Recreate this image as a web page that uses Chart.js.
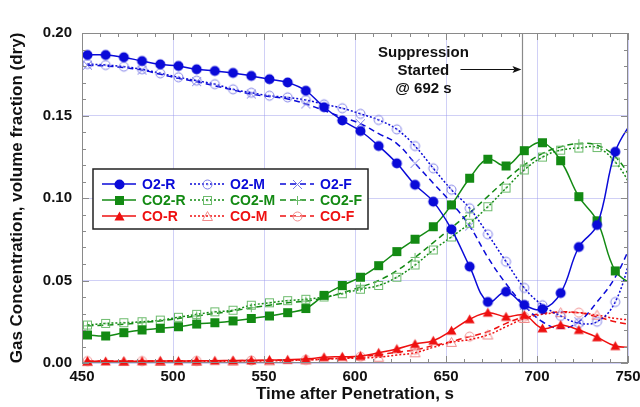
<!DOCTYPE html>
<html>
<head>
<meta charset="utf-8">
<title>Gas Concentration after Penetration</title>
<script src="https://cdn.jsdelivr.net/npm/chart.js@4.4.1/dist/chart.umd.min.js"></script>
<style>
  html, body { margin: 0; padding: 0; background: #fff; }
  #chart { display: block; }
</style>
</head>
<body>
<canvas id="chart" width="640" height="407"></canvas>
<script>
// sample times, s after penetration (last one sits just past the axis end)
const times = [453, 463, 473, 483, 493, 503, 513, 523, 533, 543,
               553, 563, 573, 583, 593, 603, 613, 623, 633, 643,
               653, 663, 673, 683, 693, 703, 713, 723, 733, 743, 753];

// volume fractions (dry)
const o2R  = [0.1867, 0.1867, 0.1853, 0.1830, 0.1810, 0.1800, 0.1780, 0.1770, 0.1758, 0.1740,
              0.1720, 0.1700, 0.1650, 0.1550, 0.1470, 0.1406, 0.1315, 0.1210, 0.1080, 0.0978,
              0.0810, 0.0584, 0.0370, 0.0432, 0.0352, 0.0327, 0.0424, 0.0703, 0.0836, 0.1280, 0.1480];
const o2M  = [0.1812, 0.1806, 0.1796, 0.1780, 0.1756, 0.1732, 0.1711, 0.1690, 0.1659, 0.1638,
              0.1620, 0.1610, 0.1594, 0.1568, 0.1544, 0.1510, 0.1473, 0.1416, 0.1315, 0.1180,
              0.1050, 0.0938, 0.0780, 0.0614, 0.0455, 0.0350, 0.0285, 0.0242, 0.0250, 0.0370, 0.0700];
const o2F  = [0.1805, 0.1800, 0.1790, 0.1775, 0.1750, 0.1725, 0.1705, 0.1680, 0.1655, 0.1630,
              0.1615, 0.1600, 0.1570, 0.1530, 0.1490, 0.1450, 0.1390, 0.1330, 0.1210, 0.1090,
              0.0970, 0.0830, 0.0640, 0.0480, 0.0350, 0.0250, 0.0210, 0.0250, 0.0370, 0.0520, 0.0750];
const co2R = [0.0170, 0.0164, 0.0184, 0.0200, 0.0210, 0.0220, 0.0236, 0.0244, 0.0255, 0.0270,
              0.0285, 0.0305, 0.0330, 0.0410, 0.0470, 0.0520, 0.0590, 0.0675, 0.0750, 0.0826,
              0.0958, 0.1120, 0.1235, 0.1194, 0.1287, 0.1335, 0.1226, 0.1008, 0.0862, 0.0558, 0.0470];
const co2M = [0.0230, 0.0240, 0.0244, 0.0250, 0.0260, 0.0277, 0.0295, 0.0310, 0.0320, 0.0350,
              0.0365, 0.0378, 0.0386, 0.0400, 0.0420, 0.0447, 0.0470, 0.0520, 0.0594, 0.0685,
              0.0764, 0.0847, 0.0947, 0.1060, 0.1170, 0.1248, 0.1290, 0.1303, 0.1306, 0.1218, 0.1050];
const co2F = [0.0225, 0.0230, 0.0235, 0.0245, 0.0255, 0.0270, 0.0285, 0.0300, 0.0315, 0.0335,
              0.0350, 0.0365, 0.0375, 0.0395, 0.0425, 0.0460, 0.0500, 0.0560, 0.0640, 0.0730,
              0.0820, 0.0910, 0.1010, 0.1110, 0.1200, 0.1270, 0.1310, 0.1330, 0.1320, 0.1250, 0.1100];
const coR  = [0.0010, 0.0010, 0.0010, 0.0011, 0.0012, 0.0012, 0.0013, 0.0014, 0.0015, 0.0016,
              0.0018, 0.0020, 0.0024, 0.0035, 0.0038, 0.0042, 0.0062, 0.0085, 0.0115, 0.0135,
              0.0196, 0.0265, 0.0305, 0.0280, 0.0290, 0.0210, 0.0230, 0.0200, 0.0156, 0.0103, 0.0095];
const coM  = [0.0008, 0.0009, 0.0009, 0.0009, 0.0010, 0.0010, 0.0010, 0.0011, 0.0011, 0.0012,
              0.0013, 0.0015, 0.0018, 0.0022, 0.0028, 0.0030, 0.0035, 0.0048, 0.0062, 0.0095,
              0.0125, 0.0142, 0.0170, 0.0220, 0.0270, 0.0295, 0.0305, 0.0305, 0.0290, 0.0270, 0.0260];
const coF  = [0.0012, 0.0012, 0.0012, 0.0012, 0.0013, 0.0013, 0.0013, 0.0014, 0.0014, 0.0015,
              0.0016, 0.0017, 0.0019, 0.0024, 0.0030, 0.0038, 0.0050, 0.0065, 0.0080, 0.0105,
              0.0130, 0.0160, 0.0190, 0.0240, 0.0280, 0.0300, 0.0310, 0.0305, 0.0280, 0.0250, 0.0230];

const suppressionTime = 692;
const annotationLines = ['Suppression', 'Started', '@ 692 s'];

const BLUE = '#0a0ad8', GREEN = '#138a13', RED = '#ee1010';
const LBLUE = '#7c7ce6', LGREEN = '#6cbb6c', LRED = '#f08a8a';
const FONT = "'Liberation Sans', Arial, sans-serif";

// little canvases used as point styles (and reused in the legend)
function marker(kind, color) {
  const s = 13, m = s / 2;
  const c = document.createElement('canvas');
  c.width = s; c.height = s;
  const g = c.getContext('2d');
  g.strokeStyle = color; g.fillStyle = color; g.lineWidth = 1;
  g.beginPath();
  if (kind === 'disc') { g.arc(m, m, 5, 0, Math.PI * 2); g.fill(); }
  else if (kind === 'square') { g.fillRect(m - 4.5, m - 4.5, 9, 9); }
  else if (kind === 'tri') { g.moveTo(m, m - 5); g.lineTo(m + 5, m + 4); g.lineTo(m - 5, m + 4); g.closePath(); g.fill(); }
  else if (kind === 'ringdot') { g.arc(m, m, 4.5, 0, Math.PI * 2); g.stroke(); g.fillRect(m - 0.8, m - 0.8, 1.6, 1.6); }
  else if (kind === 'boxdot') { g.strokeRect(m - 4, m - 4, 8, 8); g.fillRect(m - 0.8, m - 0.8, 1.6, 1.6); }
  else if (kind === 'opentri') { g.moveTo(m, m - 5); g.lineTo(m + 5, m + 4); g.lineTo(m - 5, m + 4); g.closePath(); g.stroke(); }
  else if (kind === 'x') { g.moveTo(m - 4.5, m - 4.5); g.lineTo(m + 4.5, m + 4.5); g.moveTo(m + 4.5, m - 4.5); g.lineTo(m - 4.5, m + 4.5); g.stroke(); }
  else if (kind === 'plus') { g.moveTo(m, m - 4.5); g.lineTo(m, m + 4.5); g.moveTo(m - 4.5, m); g.lineTo(m + 4.5, m); g.stroke(); }
  else if (kind === 'ringbar') { g.arc(m, m, 4.5, 0, Math.PI * 2); g.moveTo(m - 4.5, m); g.lineTo(m + 4.5, m); g.stroke(); }
  return c;
}

function series(label, values, color, textColor, dash, mark, every) {
  return {
    label: label,
    data: times.map((t, i) => ({ x: t, y: values[i] })),
    borderColor: color,
    backgroundColor: color,
    borderWidth: 1.5,
    borderDash: dash,
    pointStyle: mark,
    pointRadius: ctx => (ctx.dataIndex % every === 0 ? 5 : 0),
    pointHoverRadius: 0,
    tension: 0.4,
    clip: { left: 6, top: 6, right: 0, bottom: 8 },
    textColor: textColor
  };
}

const DOT = [2, 2], DASH = [6, 4];
const datasets = [
  series('O2-R',  o2R,  BLUE,  BLUE,  [],   marker('disc', BLUE), 1),
  series('CO2-R', co2R, GREEN, GREEN, [],   marker('square', GREEN), 1),
  series('CO-R',  coR,  RED,   RED,   [],   marker('tri', RED), 1),
  series('O2-M',  o2M,  BLUE,  BLUE,  DOT,  marker('ringdot', LBLUE), 1),
  series('CO2-M', co2M, GREEN, GREEN, DOT,  marker('boxdot', LGREEN), 1),
  series('CO-M',  coM,  RED,   RED,   DOT,  marker('opentri', LRED), 2),
  series('O2-F',  o2F,  BLUE,  BLUE,  DASH, marker('x', LBLUE), 3),
  series('CO2-F', co2F, GREEN, GREEN, DASH, marker('plus', LGREEN), 3),
  series('CO-F',  coF,  RED,   RED,   DASH, marker('ringbar', LRED), 3)
];

// inside ticks, frame, suppression marker and the boxed legend
const decorations = {
  id: 'decorations',
  beforeDatasetsDraw(chart) {
    const { ctx, chartArea: a, scales: { x } } = chart;
    const px = Math.round(x.getPixelForValue(suppressionTime)) + 0.5;
    ctx.save();
    ctx.strokeStyle = '#8a8a8a';
    ctx.lineWidth = 1.2;
    ctx.beginPath(); ctx.moveTo(px, a.top); ctx.lineTo(px, a.bottom); ctx.stroke();
    ctx.restore();
  },
  afterDatasetsDraw(chart) {
    const { ctx, chartArea: a, scales: { x, y } } = chart;
    ctx.save();
    ctx.strokeStyle = '#8a8a8a';
    ctx.lineWidth = 1;
    ctx.strokeRect(a.left + 0.5, a.top + 0.5, a.right - a.left - 1, a.bottom - a.top - 1);
    ctx.beginPath();
    for (let t = x.min; t <= x.max; t += 10) {
      const p = Math.round(x.getPixelForValue(t)) + 0.5;
      const len = (t - x.min) % 50 === 0 ? 7 : 4;
      ctx.moveTo(p, a.bottom); ctx.lineTo(p, a.bottom - len);
      ctx.moveTo(p, a.top); ctx.lineTo(p, a.top + len);
    }
    for (let k = 0; k <= 20; k++) {
      const p = Math.round(y.getPixelForValue(k / 100)) + 0.5;
      const len = k % 5 === 0 ? 7 : 4;
      ctx.moveTo(a.left, p); ctx.lineTo(a.left + len, p);
      ctx.moveTo(a.right, p); ctx.lineTo(a.right - len, p);
    }
    ctx.stroke();

    // annotation text + arrow
    const lx = x.getPixelForValue(suppressionTime);
    ctx.fillStyle = '#111';
    ctx.font = 'bold 15px ' + FONT;
    ctx.textAlign = 'center';
    ctx.textBaseline = 'middle';
    annotationLines.forEach((s, i) => ctx.fillText(s, lx - 99, a.top + 20 + i * 18));
    const ay = a.top + 36.5;
    ctx.strokeStyle = '#111';
    ctx.beginPath(); ctx.moveTo(lx - 62, ay); ctx.lineTo(lx - 8, ay); ctx.stroke();
    ctx.beginPath(); ctx.moveTo(lx - 1, ay); ctx.lineTo(lx - 10, ay - 3.5); ctx.lineTo(lx - 8, ay); ctx.lineTo(lx - 10, ay + 3.5); ctx.closePath(); ctx.fill();

    // legend box
    const bx = a.left + 11, by = a.top + 136, bw = 275, bh = 60;
    ctx.fillStyle = '#fff';
    ctx.fillRect(bx, by, bw, bh);
    ctx.strokeStyle = '#222';
    ctx.lineWidth = 1.5;
    ctx.strokeRect(bx, by, bw, bh);
    ctx.font = 'bold 14px ' + FONT;
    ctx.textAlign = 'left';
    const cols = [9, 97, 187];
    chart.data.datasets.forEach((ds, i) => {
      const col = Math.floor(i / 3), row = i % 3;
      const x0 = bx + cols[col], yy = by + 15 + row * 16;
      ctx.strokeStyle = ds.borderColor;
      ctx.lineWidth = 1.5;
      ctx.setLineDash(ds.borderDash);
      ctx.beginPath(); ctx.moveTo(x0, yy); ctx.lineTo(x0 + 34, yy); ctx.stroke();
      ctx.setLineDash([]);
      const mk = ds.pointStyle;
      ctx.fillStyle = '#fff';
      ctx.drawImage(mk, Math.round(x0 + 17 - mk.width / 2), Math.round(yy - mk.height / 2));
      ctx.fillStyle = ds.textColor;
      ctx.fillText(ds.label, x0 + 40, yy + 1);
    });
    ctx.restore();
  }
};

new Chart(document.getElementById('chart'), {
  type: 'line',
  data: { datasets: datasets },
  options: {
    responsive: false,
    animation: false,
    events: [],
    layout: { padding: { top: 33, right: 12, left: 0, bottom: 0 } },
    plugins: { legend: { display: false }, tooltip: { enabled: false } },
    scales: {
      x: {
        type: 'linear',
        min: 450,
        max: 750,
        afterFit: s => { s.height = 44; s.paddingLeft = 0; s.paddingRight = 0; },
        grid: { color: 'rgba(150,150,235,0.45)', drawTicks: false },
        border: { display: false },
        ticks: {
          stepSize: 50,
          autoSkip: false,
          maxRotation: 0,
          padding: 5,
          color: '#111',
          font: { family: FONT, size: 15, weight: 'bold' }
        },
        title: {
          display: true,
          text: 'Time after Penetration, s',
          color: '#111',
          padding: { top: 0, bottom: 2 },
          font: { family: FONT, size: 17, weight: 'bold' }
        }
      },
      y: {
        min: 0,
        max: 0.2,
        afterFit: s => { s.width = 82; s.paddingTop = 0; s.paddingBottom = 0; },
        grid: { color: 'rgba(150,150,235,0.45)', drawTicks: false },
        border: { display: false },
        ticks: {
          stepSize: 0.05,
          padding: 10,
          color: '#111',
          font: { family: FONT, size: 15, weight: 'bold' },
          callback: v => v.toFixed(2)
        },
        title: {
          display: true,
          text: 'Gas Concentration, volume fraction (dry)',
          color: '#111',
          padding: { top: 7, bottom: 0 },
          font: { family: FONT, size: 17, weight: 'bold' }
        }
      }
    }
  },
  plugins: [decorations]
});
</script>
</body>
</html>
